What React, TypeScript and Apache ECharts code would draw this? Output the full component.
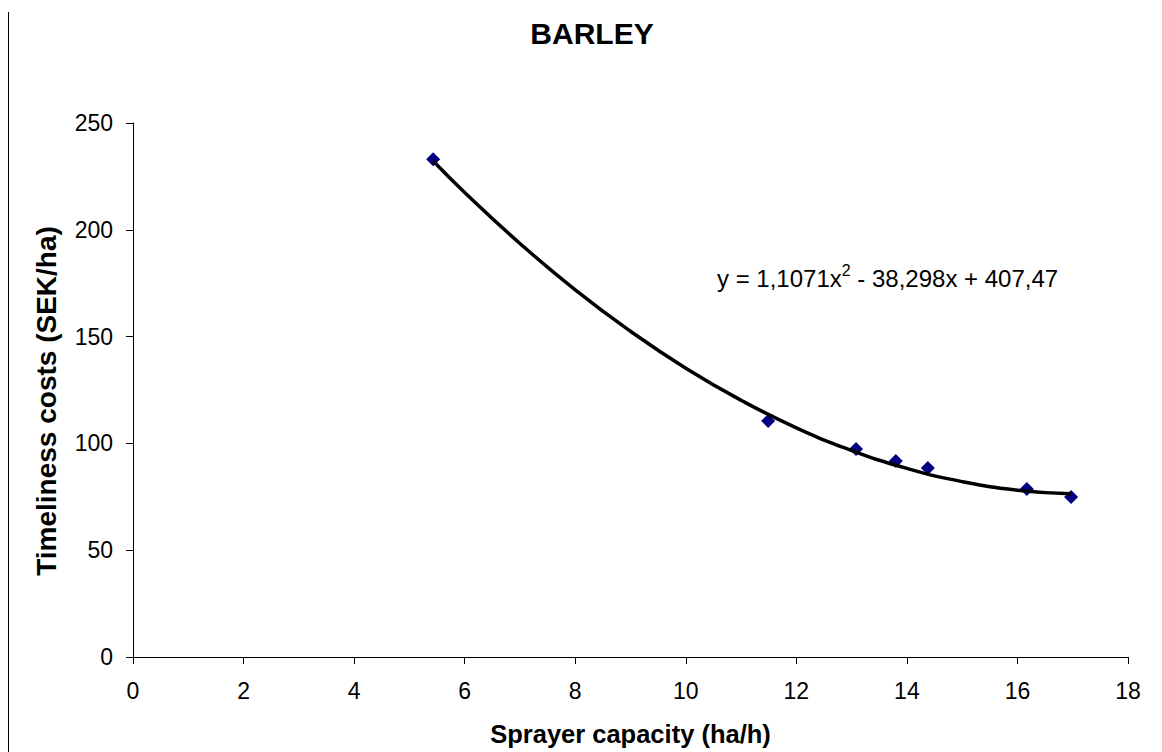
import React, { useEffect, useRef } from "react";
import * as echarts from "echarts";

const capacity = [5.43, 11.49, 13.08, 13.8, 14.38, 16.17, 16.97];
const costs = [233, 110.5, 97.4, 91.8, 88.5, 78.7, 74.9];

const trendX = [5.43, 6, 7, 8, 9, 10, 11, 12, 13, 14, 15, 16, 16.97];
const trendY = [232.2, 217.5, 193.6, 171.9, 152.5, 135.2, 120.2, 107.3, 96.7, 88.3, 82.1, 78.1, 76.4];

const xTicks = [0, 2, 4, 6, 8, 10, 12, 14, 16, 18];
const yTicks = [0, 50, 100, 150, 200, 250];

const FONT = "'Liberation Sans', Arial, sans-serif";

export default function App() {
  const ref = useRef<HTMLDivElement>(null);
  useEffect(() => {
    if (!ref.current) return;
    const chart = echarts.init(ref.current, null, { renderer: "svg" });
    chart.setOption({
      animation: false,
      backgroundColor: "#ffffff",
      title: {
        text: "BARLEY",
        left: 587,
        top: 13,
        textAlign: "center",
        textStyle: { fontFamily: FONT, fontSize: 30, fontWeight: "bold", color: "#000" },
      },
      grid: { left: 133, right: 34, top: 123, bottom: 95, containLabel: false },
      xAxis: {
        type: "value",
        min: xTicks[0],
        max: xTicks[xTicks.length - 1],
        interval: 2,
        name: "Sprayer capacity (ha/h)",
        nameLocation: "middle",
        nameGap: 64,
        nameTextStyle: { fontFamily: FONT, fontSize: 25.5, fontWeight: "bold", color: "#000" },
        axisLine: { show: true, onZero: false, lineStyle: { color: "#000", width: 1 } },
        axisTick: { show: true, length: 7, inside: false, lineStyle: { color: "#000" } },
        axisLabel: { fontFamily: FONT, fontSize: 23, color: "#000", margin: 22 },
        splitLine: { show: false },
      },
      yAxis: {
        type: "value",
        min: yTicks[0],
        max: yTicks[yTicks.length - 1],
        interval: 50,
        name: "Timeliness costs (SEK/ha)",
        nameLocation: "middle",
        nameGap: 73,
        nameRotate: 90,
        nameTextStyle: { fontFamily: FONT, fontSize: 28, fontWeight: "bold", color: "#000", padding: [0, 22, 0, 0] },
        axisLine: { show: true, lineStyle: { color: "#000", width: 1 } },
        axisTick: { show: true, length: 7, inside: false, lineStyle: { color: "#000" } },
        axisLabel: { fontFamily: FONT, fontSize: 23, color: "#000", margin: 20 },
        splitLine: { show: false },
      },
      series: [
        {
          type: "scatter",
          data: capacity.map((x, i) => [x, costs[i]]),
          symbol: "diamond",
          symbolSize: 14,
          itemStyle: { color: "#000080", opacity: 1 },
          z: 2,
        },
        {
          type: "line",
          data: trendX.map((x, i) => [x, trendY[i]]),
          smooth: true,
          showSymbol: false,
          symbol: "none",
          lineStyle: { color: "#000", width: 3.5 },
          z: 3,
        },
      ],
      graphic: [
        {
          type: "line",
          shape: { x1: 8.5, y1: 12, x2: 8.5, y2: 752 },
          style: { stroke: "#000", lineWidth: 1 },
        },
        {
          type: "text",
          x: 717,
          y: 262,
          style: {
            text: "{a|y = 1,1071x}{s|2}{a| - 38,298x + 407,47}",
            fill: "#000",
            verticalAlign: "top",
            rich: {
              a: { fontFamily: FONT, fontSize: 24, fill: "#000", verticalAlign: "bottom", lineHeight: 28 },
              s: { fontFamily: FONT, fontSize: 16, fill: "#000", verticalAlign: "top", lineHeight: 28, padding: [0, 0, 10, 0] },
            },
          },
        },
      ],
    });
    return () => chart.dispose();
  }, []);
  return (
    <div
      ref={ref}
      style={{ position: "fixed", left: 0, top: 0, width: 1162, height: 752, background: "#fff" }}
    />
  );
}
